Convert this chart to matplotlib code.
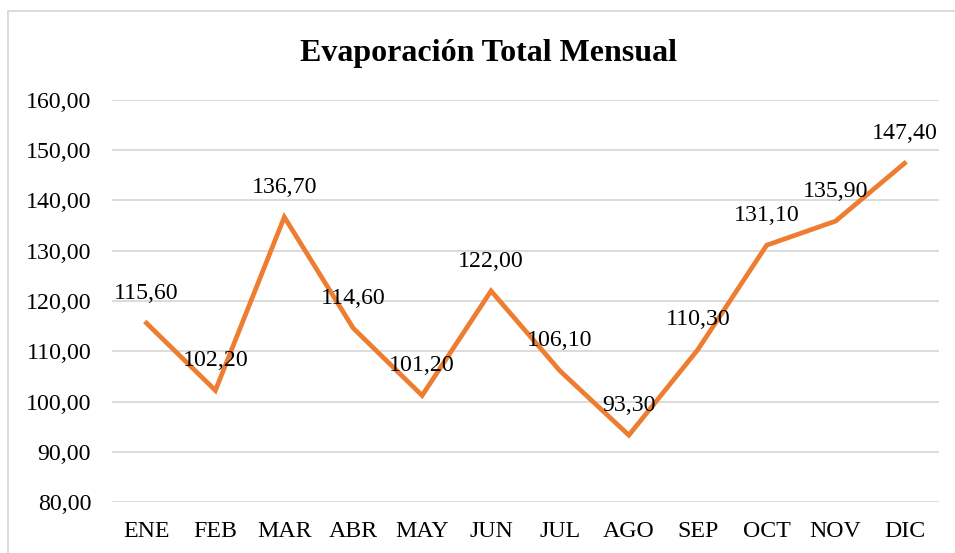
import matplotlib.pyplot as plt
from matplotlib.patches import Rectangle

months = ["ENE", "FEB", "MAR", "ABR", "MAY", "JUN", "JUL", "AGO", "SEP", "OCT", "NOV", "DIC"]
evaporacion = [115.6, 102.2, 136.7, 114.6, 101.2, 122.0, 106.1, 93.3, 110.3, 131.1, 135.9, 147.4]
yticks = [80, 90, 100, 110, 120, 130, 140, 150, 160]

plt.rcParams["font.family"] = ["Liberation Serif", "DejaVu Serif"]

fig = plt.figure(figsize=(9.55, 5.53), dpi=100)
ax = fig.add_axes([0.1173, 0.0922, 0.8659, 0.727])

x = list(range(len(months)))
ax.plot(x, evaporacion, color="#ED7D31", linewidth=3.4, solid_joinstyle="miter", zorder=3)

for xi, v in zip(x, evaporacion):
    lab = f"{v:.2f}".replace(".", ",")
    ax.annotate(lab, (xi, v), xytext=(0, 21.5), textcoords="offset points",
                ha="center", va="center", fontsize=17.2, color="black", zorder=4)

ax.set_xlim(-0.5, len(months) - 0.5)
ax.set_ylim(80, 160)
ax.set_yticks(yticks)
ax.set_yticklabels([f"{t:.2f}".replace(".", ",") for t in yticks], fontsize=17.2)
ax.set_xticks(x)
ax.set_xticklabels(months, fontsize=17.2)
ax.tick_params(axis="both", length=0)
ax.tick_params(axis="y", pad=15)
ax.tick_params(axis="x", pad=14)
ax.grid(axis="y", color="#D9D9D9", linewidth=1.3)
ax.set_axisbelow(True)
for s in ax.spines.values():
    s.set_visible(False)

fig.text(0.512, 1 - 61 / 553, "Evaporación Total Mensual", ha="center", va="baseline",
         fontsize=23, fontweight="bold")

fig.patches.append(Rectangle((8 / 955, -0.1), 1.2, 1 - 11 / 553 + 0.1,
                             transform=fig.transFigure, fill=False,
                             edgecolor="#D9D9D9", linewidth=1.3))

fig.savefig("out.png", dpi=100)
